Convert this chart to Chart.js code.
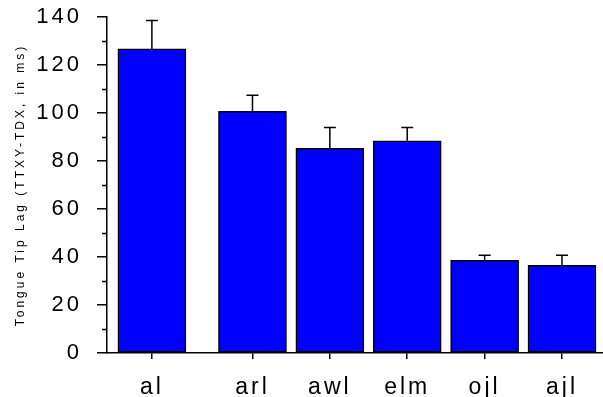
<!DOCTYPE html>
<html>
<head>
<meta charset="utf-8">
<script src="https://cdn.jsdelivr.net/npm/chart.js@4/dist/chart.umd.min.js"></script>
<style>
  html, body { margin: 0; padding: 0; background: #fff; }
  #wrap { width: 603px; height: 397px; }
</style>
</head>
<body>
<div id="wrap"><canvas id="lag-chart"></canvas></div>
<script>
// tongue tip lag per cluster, bars with upward SE whiskers
var categories = ['al', 'arl', 'awl', 'elm', 'ojl', 'ajl'];
var groupPos = [0, 1.3, 2.3, 3.3, 4.3, 5.3];   // first group sits apart from the rest
var lagMeans = [126.7, 100.7, 85.3, 88.4, 38.6, 36.5];
var lagErrors = [11.8, 6.7, 8.7, 5.6, 2.1, 4.2];
var yTicks = [0, 20, 40, 60, 80, 100, 120, 140];

(function () {
    'use strict';

    var spacingPlugin = {
        id: 'spacing',
        beforeLayout: function (chart) { chart.ctx.letterSpacing = '3px'; },
        beforeDraw: function (chart) { chart.ctx.letterSpacing = '3px'; }
    };

    // half-length ticks between the labelled ones
    var minorTicks = {
        id: 'minorTicks',
        afterDraw: function (chart) {
            var y = chart.scales.y;
            var ctx = chart.ctx;
            ctx.save();
            ctx.strokeStyle = '#000';
            ctx.lineWidth = 1.5;
            for (var v = 10; v < 140; v += 20) {
                var py = Math.round(y.getPixelForValue(v)) + 0.5;
                ctx.beginPath();
                ctx.moveTo(y.right - 5, py);
                ctx.lineTo(y.right, py);
                ctx.stroke();
            }
            ctx.restore();
        }
    };

    var errorBars = {
        id: 'errorBars',
        afterDatasetsDraw: function (chart) {
            var xs = chart.scales.x, ys = chart.scales.y;
            var ctx = chart.ctx;
            ctx.save();
            ctx.strokeStyle = '#000';
            ctx.lineWidth = 1.5;
            lagMeans.forEach(function (m, i) {
                var px = xs.getPixelForValue(groupPos[i]);
                var yBar = ys.getPixelForValue(m);
                var yTop = ys.getPixelForValue(m + lagErrors[i]);
                ctx.beginPath();
                ctx.moveTo(px, yBar);
                ctx.lineTo(px, yTop);
                ctx.moveTo(px - 6, yTop);
                ctx.lineTo(px + 6, yTop);
                ctx.stroke();
            });
            ctx.restore();
        }
    };

    var ctx = document.getElementById('lag-chart').getContext('2d');
    new Chart(ctx, {
        type: 'bar',
        data: {
            datasets: [{
                data: lagMeans.map(function (m, i) { return { x: groupPos[i], y: m }; }),
                backgroundColor: '#0000ff',
                borderColor: '#000',
                borderWidth: 1.5,
                borderSkipped: false,
                barThickness: 68
            }]
        },
        options: {
            responsive: true,
            maintainAspectRatio: false,
            animation: false,
            layout: { padding: { top: 17, right: 0, left: 0, bottom: 0 } },
            plugins: { legend: { display: false }, tooltip: { enabled: false } },
            scales: {
                x: {
                    type: 'linear',
                    offset: false,
                    min: -0.58,
                    max: 5.83,
                    afterBuildTicks: function (scale) {
                        scale.ticks = groupPos.map(function (v) { return { value: v }; });
                    },
                    afterFit: function (scale) {
                        scale.height = 44;
                        scale.paddingLeft = 0;
                        scale.paddingRight = 0;
                    },
                    ticks: {
                        autoSkip: false,
                        maxRotation: 0,
                        color: '#000',
                        padding: 15,
                        font: { family: 'Liberation Sans, Arial, sans-serif', size: 23 },
                        callback: function (v) { return categories[groupPos.indexOf(v)]; }
                    },
                    grid: { offset: false, drawOnChartArea: false, drawTicks: true, tickLength: 6, color: '#000', lineWidth: 1.5 },
                    border: { color: '#000', width: 1.5 }
                },
                y: {
                    min: 0,
                    max: 140,
                    afterBuildTicks: function (scale) {
                        scale.ticks = yTicks.map(function (v) { return { value: v }; });
                    },
                    afterFit: function (scale) {
                        scale.width = 107;
                        scale.paddingTop = 0;
                        scale.paddingBottom = 0;
                    },
                    ticks: {
                        color: '#000',
                        padding: 15,
                        font: { family: 'Liberation Sans, Arial, sans-serif', size: 22 }
                    },
                    grid: { drawOnChartArea: false, drawTicks: true, tickLength: 10, color: '#000', lineWidth: 1.5 },
                    border: { color: '#000', width: 1.5 },
                    title: {
                        display: true,
                        text: 'Tongue Tip Lag (TTXY-TDX, in ms)',
                        color: '#000',
                        padding: { top: 13, bottom: 0 },
                        font: { family: 'Liberation Sans, Arial, sans-serif', size: 12 }
                    }
                }
            }
        },
        plugins: [spacingPlugin, minorTicks, errorBars]
    });
})();
</script>
</body>
</html>
